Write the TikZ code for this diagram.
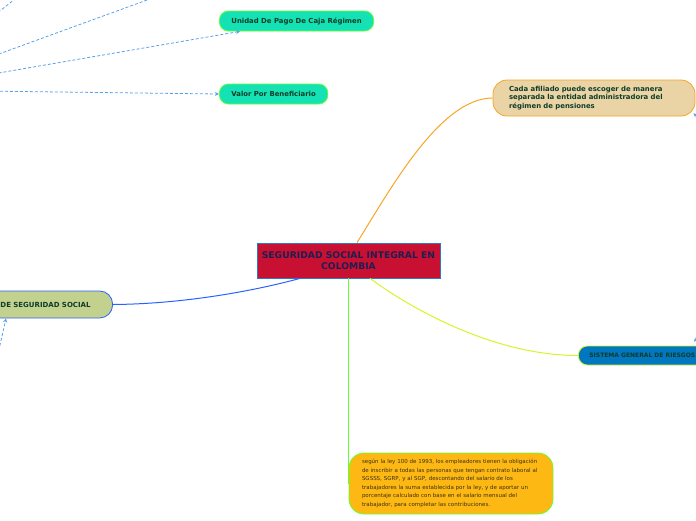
\documentclass[tikz,border=0pt]{standalone}
\usepackage{fontspec}
\setmainfont{DejaVu Sans}
\usepackage{tikz}
\usetikzlibrary{arrows.meta, positioning, calc}
\definecolor{CoreRed}    {RGB}{200, 16,  50}
\definecolor{CoreBlue}   {RGB}{ 50, 120, 190}
\definecolor{CoreText}   {RGB}{ 30,  30,  80}
\definecolor{LeafText}   {RGB}{ 15,  60,  40}
\definecolor{NoteText}   {RGB}{ 60,  50,  20}
\definecolor{TanFill}    {RGB}{234, 212, 166}
\definecolor{OrangeLine} {RGB}{247, 166,  35}
\definecolor{TealFill}   {RGB}{ 20, 226, 180}
\definecolor{LimeLine}   {RGB}{102, 255,  51}
\definecolor{OliveFill}  {RGB}{194, 209, 142}
\definecolor{RoyalLine}  {RGB}{ 41,  98, 255}
\definecolor{SeaFill}    {RGB}{  0, 119, 190}
\definecolor{YellowLine} {RGB}{212, 245,  40}
\definecolor{AmberFill}  {RGB}{253, 184,  19}
\definecolor{DashBlue}   {RGB}{ 90, 160, 232}

\begin{document}
\begin{tikzpicture}[
  x=1pt, y=-1pt,
  core/.style = {
    rectangle, fill=CoreRed, draw=CoreBlue, line width=0.8pt,
    minimum width=183pt, minimum height=35pt,
    align=center, text=CoreText,
    font=\fontsize{9.2}{11.5}\selectfont\bfseries
  },
  pill/.style = {
    rectangle, rounded corners=9pt, line width=0.8pt,
    inner xsep=12pt, inner ysep=0pt, minimum height=20pt,
    text=LeafText, font=\fontsize{6.9}{8}\selectfont\bfseries
  },
  bubble/.style = {
    rectangle, rounded corners=14pt, line width=0.8pt,
    inner xsep=16pt, inner ysep=0pt, align=left,
    text=LeafText, font=\fontsize{6.9}{8.5}\selectfont\bfseries
  },
  link/.style = {line width=1pt},
  dashlink/.style = {
    -{Stealth[length=4pt, width=4pt]}, dashed,
    dash pattern=on 3pt off 2pt, draw=DashBlue, line width=0.8pt
  }
]
\useasboundingbox (0,0) rectangle (696,520);

% Nodo central
\node[core] (core) at (348.5,260.5)
  {SEGURIDAD SOCIAL INTEGRAL EN\\COLOMBIA};

% Pensiones
\node[bubble, fill=TanFill, draw=OrangeLine, text width=170pt,
  minimum height=36pt] (tan) at (594,98)
  {Cada afiliado puede escoger de manera\\separada la entidad administradora del\\régimen de pensiones};

% Salud (hojas)
\node[pill, fill=TealFill, draw=LimeLine, anchor=west] (upc) at (219,21)
  {Unidad De Pago De Caja Régimen};
\node[pill, fill=TealFill, draw=LimeLine, anchor=west] (vpb) at (219,94)
  {Valor Por Beneficiario};

% Sistema general (izquierda)
\node[pill, fill=OliveFill, draw=RoyalLine, anchor=east, text width=160pt,
  align=right, inner xsep=22pt, minimum height=27pt, rounded corners=13pt,
  font=\fontsize{7}{8}\selectfont\bfseries] (sss) at (113,304.5)
  {DE SEGURIDAD SOCIAL};

% Riesgos
\node[pill, fill=SeaFill, draw=YellowLine, anchor=west, inner xsep=11pt,
  minimum height=19pt, font=\fontsize{6}{7}\selectfont\bfseries] (risk) at (578,355.5)
  {SISTEMA GENERAL DE RIESGOS};

% Nota ley 100
\node[bubble, fill=AmberFill, draw=LimeLine, text width=178pt, inner xsep=13pt,
  minimum height=61pt, rounded corners=15pt, text=NoteText,
  font=\fontsize{5.5}{8.5}\selectfont] (note) at (451,483.5)
  {según la ley 100 de 1993, los empleadores tienen la obligación\\
   de inscribir a todas las personas que tengan contrato laboral al\\
   SGSSS, SGRP, y al SGP, descontando del salario de los\\
   trabajadores la suma establecida por la ley, y de aportar un\\
   porcentaje calculado con base en el salario mensual del\\
   trabajador, para completar las contribuciones.};

% Ramas principales
\draw[link, OrangeLine] (core.north -| 357,0)
  .. controls (390,190) and (440,98) .. (tan.west);
\draw[link, RoyalLine] (core.south -| 300,0)
  .. controls (250,292) and (180,304) .. (sss.east);
\draw[link, YellowLine] (core.south -| 370,0)
  .. controls (420,315) and (500,355.5) .. (risk.west);
\draw[link, LimeLine] (core.south -| note.west) -- (note.west);

% Conectores tracejados (origen fuera del cuadro)
\coordinate (src)    at (-100,90);
\coordinate (topA)   at (39,-20);
\coordinate (topB)   at (202,-20);
\coordinate (lowsrc) at (-8,380);
\coordinate (tanin)  at (712,128);
\coordinate (riskin) at (712,322);

\draw[dashlink] (src) -- (topA);
\draw[dashlink] (src) -- (topB);
\draw[dashlink] (src) -- (upc.south -| 240,0);
\draw[dashlink] (src) -- (vpb.west);
\draw[dashlink] (lowsrc) -- (sss.south -| 6,0);
\draw[dashlink] (tanin) -- ($(tan.south east)+(-2,-3)$);
\draw[dashlink] (riskin) -- ($(risk.north west)+(116,-4)$);

\end{tikzpicture}
\end{document}
